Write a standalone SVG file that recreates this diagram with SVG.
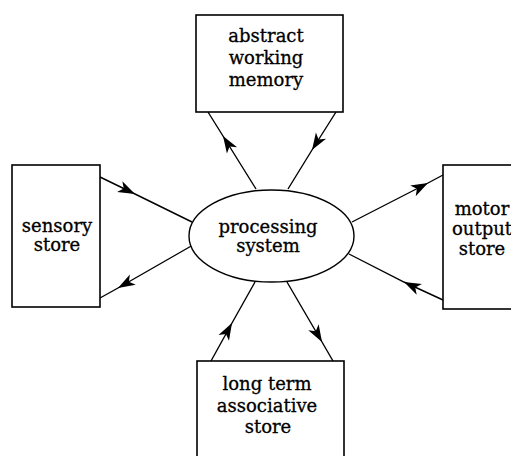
<svg xmlns="http://www.w3.org/2000/svg" width="511" height="456" viewBox="0 0 511 456">
<style>
.box{fill:#fff;stroke:#000;stroke-width:1.6}
.ell{fill:#fff;stroke:#000;stroke-width:1.4}
.t{font-family:"DejaVu Serif","Liberation Serif",serif;font-size:18px;fill:#000;stroke:#000;stroke-width:0.3;text-anchor:middle}
.c{fill:none;stroke:#000;stroke-width:1.4;marker-mid:url(#ah)}
</style>
<defs>
<marker id="ah" markerUnits="userSpaceOnUse" markerWidth="22" markerHeight="16" viewBox="-19 -8 22 16" refX="0" refY="0" orient="auto">
<path d="M0,0 L-17,-6 L-12.5,0 L-17,6 Z" fill="#000"/>
</marker>
</defs>
<rect width="511" height="456" fill="#fff"/>
<g id="connectors">
<path class="c" d="M256,189 L223,136 L208,112"/>
<path class="c" d="M336,112 L312,150 L288,189"/>
<path class="c" d="M100,177 L135,194 L192,222"/>
<path class="c" d="M193,245 L118,288 L100,298"/>
<path class="c" d="M352,222 L428,183 L443,175"/>
<path class="c" d="M443,300 L404,282 L349,254"/>
<path class="c" d="M211,361 L232,323 L255,282"/>
<path class="c" d="M287,282 L322,342 L333,361"/>
</g>
<g id="processing">
<ellipse class="ell" cx="271.5" cy="236" rx="82.5" ry="46"/>
<text class="t" x="268" y="233">processing</text>
<text class="t" x="268" y="252">system</text>
</g>
<g id="abstract">
<rect class="box" x="196" y="15" width="147" height="97"/>
<text class="t" x="266" y="42">abstract</text>
<text class="t" x="266" y="64">working</text>
<text class="t" x="266" y="86">memory</text>
</g>
<g id="sensory">
<rect class="box" x="12" y="165" width="88" height="142"/>
<text class="t" x="57" y="232">sensory</text>
<text class="t" x="57" y="251">store</text>
</g>
<g id="motor">
<rect class="box" x="443" y="165" width="80" height="144"/>
<text class="t" x="482" y="215">motor</text>
<text class="t" x="482" y="235">output</text>
<text class="t" x="482" y="255">store</text>
</g>
<g id="longterm">
<rect class="box" x="197" y="361" width="147" height="110"/>
<text class="t" x="267" y="390">long term</text>
<text class="t" x="267" y="412">associative</text>
<text class="t" x="268" y="433">store</text>
</g>
</svg>
